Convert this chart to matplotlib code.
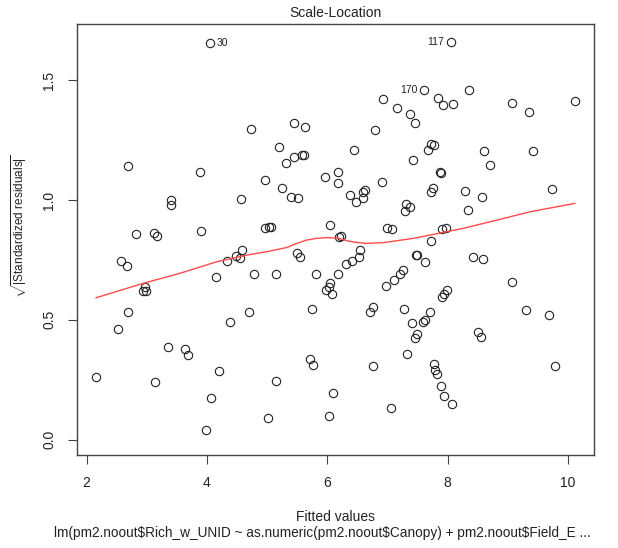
import matplotlib
matplotlib.use("Agg")
import matplotlib.pyplot as plt
import numpy as np

plt.rcParams["font.family"] = ["Liberation Sans", "DejaVu Sans"]
plt.rcParams["mathtext.fontset"] = "custom"
plt.rcParams["mathtext.rm"] = "Liberation Sans"

# fitted values and sqrt(|standardized residuals|)
fitted = [4.05, 4.73, 5.44, 5.63, 5.20, 2.69, 3.88, 5.31, 5.45, 5.58,
          5.61, 4.96, 5.24, 5.39, 5.52, 5.96, 6.18, 6.18, 3.41, 3.41,
          4.56, 6.04, 2.83, 3.12, 3.17, 3.90, 4.96, 5.03, 5.06, 6.20,
          6.22, 2.58, 2.68, 4.33, 4.48, 4.59, 4.55, 5.49, 5.54, 4.15,
          4.79, 5.14, 5.81, 6.18, 2.97, 2.93, 2.98, 6.04, 6.02, 5.98,
          6.07, 2.69, 5.75, 2.52, 4.39, 4.70, 3.36, 3.64, 3.68, 5.72,
          5.76, 2.15, 3.13, 4.20, 5.14, 6.09, 4.06, 5.01, 6.02, 3.99,
          8.05, 7.61, 8.36, 6.92, 7.84, 7.92, 8.08, 9.07, 10.11, 7.16,
          7.38, 7.45, 9.35, 6.80, 6.45, 7.73, 7.78, 7.67, 7.42, 8.61,
          9.42, 8.70, 7.87, 7.89, 6.90, 6.38, 6.47, 6.59, 6.63, 6.60,
          7.76, 7.72, 8.28, 8.57, 9.74, 7.31, 7.37, 7.29, 8.33, 6.99,
          7.07, 7.91, 7.97, 7.73, 6.55, 6.53, 6.41, 6.31, 7.47, 7.49,
          7.63, 8.42, 8.59, 7.26, 7.20, 7.10, 6.97, 9.06, 7.98, 7.93,
          7.90, 6.76, 6.71, 7.27, 7.71, 7.62, 7.59, 7.41, 7.49, 7.45,
          9.30, 9.68, 8.51, 8.55, 7.32, 6.76, 7.77, 7.79, 7.82, 9.78,
          7.88, 7.93, 8.07, 7.05]
sqrt_resid = [1.654, 1.295, 1.320, 1.305, 1.223, 1.142, 1.118, 1.156, 1.178, 1.189,
              1.188, 1.085, 1.049, 1.014, 1.007, 1.095, 1.118, 1.071, 1.000, 0.979,
              1.004, 0.897, 0.857, 0.861, 0.850, 0.869, 0.883, 0.889, 0.889, 0.846,
              0.849, 0.747, 0.726, 0.747, 0.767, 0.792, 0.759, 0.777, 0.763, 0.678,
              0.690, 0.690, 0.691, 0.690, 0.638, 0.619, 0.621, 0.652, 0.638, 0.624,
              0.606, 0.534, 0.544, 0.463, 0.491, 0.531, 0.385, 0.378, 0.352, 0.335,
              0.312, 0.261, 0.241, 0.285, 0.243, 0.193, 0.175, 0.089, 0.097, 0.038,
              1.661, 1.458, 1.458, 1.422, 1.426, 1.397, 1.401, 1.405, 1.413, 1.383,
              1.360, 1.322, 1.366, 1.291, 1.209, 1.235, 1.230, 1.209, 1.168, 1.203,
              1.205, 1.147, 1.117, 1.114, 1.074, 1.022, 0.993, 1.032, 1.042, 1.008,
              1.049, 1.033, 1.039, 1.014, 1.046, 0.982, 0.970, 0.953, 0.960, 0.884,
              0.879, 0.879, 0.882, 0.830, 0.790, 0.763, 0.745, 0.733, 0.769, 0.771,
              0.741, 0.761, 0.755, 0.709, 0.691, 0.665, 0.641, 0.658, 0.624, 0.609,
              0.596, 0.554, 0.532, 0.544, 0.531, 0.499, 0.489, 0.488, 0.439, 0.423,
              0.541, 0.520, 0.449, 0.428, 0.357, 0.307, 0.314, 0.290, 0.272, 0.307,
              0.222, 0.183, 0.149, 0.132]

# loess smoother (red line)
smooth_x = [2.16, 2.94, 3.55, 4.16, 4.66, 4.99, 5.33, 5.49, 5.66, 5.82, 5.99,
            6.20, 6.32, 6.48, 6.65, 6.93, 7.43, 7.71, 8.26, 8.70, 9.37, 10.11]
smooth_y = [0.592, 0.652, 0.694, 0.742, 0.770, 0.784, 0.802, 0.819, 0.833, 0.840, 0.843,
            0.840, 0.830, 0.823, 0.819, 0.822, 0.840, 0.854, 0.882, 0.909, 0.951, 0.986]

# labelled observations
lab_ids = ["30", "117", "170"]
lab_x = [4.05, 8.05, 7.61]
lab_y = [1.654, 1.661, 1.458]
lab_side = ["right", "left", "left"]

fig = plt.figure(figsize=(6.18, 5.48), dpi=100)
ax = fig.add_axes([0.1246, 0.1697, 0.8366, 0.7856])

ax.plot(fitted, sqrt_resid, "o", mfc="none", mec="#222222", ms=6, mew=0.8)
ax.plot(smooth_x, smooth_y, color="#ff4a4a", lw=1.0)

for t, x, y, side in zip(lab_ids, lab_x, lab_y, lab_side):
    off = 5 if side == "right" else -5
    ha = "left" if side == "right" else "right"
    ax.annotate(t, (x, y), xytext=(off, 0), textcoords="offset points",
                ha=ha, va="center", fontsize=7.5, color="#222222")

ax.set_xlim(1.842, 10.43)
ax.set_ylim(-0.0647, 1.733)
ax.set_xticks([2, 4, 6, 8, 10])
ax.set_yticks([0.0, 0.5, 1.0, 1.5])
ax.set_yticklabels(["0.0", "0.5", "1.0", "1.5"], rotation=90, va="center")

for s in ax.spines.values():
    s.set_color("#444444")
    s.set_linewidth(1.0)
ax.tick_params(direction="out", length=6.5, width=0.8, color="#444444",
               labelsize=10, labelcolor="#222222")
ax.tick_params(axis="x", pad=8.5)
ax.tick_params(axis="y", pad=8.5)

fig.text(335 / 618, 1 - 13 / 548, "Scale-Location", ha="center", va="center",
         fontsize=10, color="#222222")
fig.text(335 / 618, 1 - 517 / 548, "Fitted values", ha="center", va="center",
         fontsize=10, color="#222222")
fig.text(322 / 618, 1 - 533 / 548,
         "lm(pm2.noout$Rich_w_UNID ~ as.numeric(pm2.noout$Canopy) + pm2.noout$Field_E ...",
         ha="center", va="center", fontsize=9.8, color="#222222")
fig.text(19 / 618, 1 - 226 / 548, r"$\sqrt{|\mathrm{Standardized\ residuals}|}$",
         rotation=90, ha="center", va="center", fontsize=8.5, color="#222222")

fig.savefig("out.png", dpi=100)
